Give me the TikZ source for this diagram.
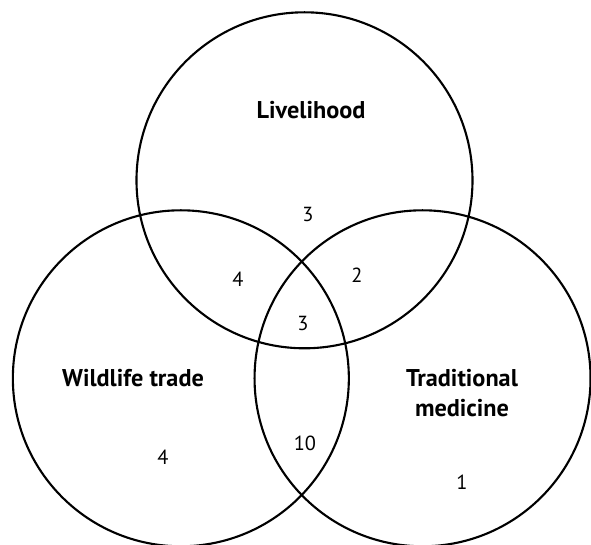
\documentclass[tikz,border=0pt]{standalone}
\usepackage{fontspec}
\setmainfont{PT Sans}
\usepackage{tkz-euclide}
\tikzset{setname/.style={inner sep=0pt,align=center,font=\bfseries\fontsize{13.8}{16.8}\selectfont},
  count/.style={inner sep=0pt,font=\fontsize{11.6}{13}\selectfont}}
\begin{document}
\begin{tikzpicture}
\useasboundingbox (0,0) rectangle (11.82,10.9);
\tkzDefPoint(6.09,7.294){L}\tkzDefPoint(6.09,10.654){l}
\tkzDefPoint(3.617,3.334){W}\tkzDefPoint(3.617,6.694){w}
\tkzDefPoint(8.451,3.334){M}\tkzDefPoint(8.451,6.694){m}
\tkzDrawCircles[draw=black,line width=1.2pt](L,l W,w M,m)
\node[setname] (livelihood) at (6.22,8.70) {Livelihood};
\node[setname] (trade) at (2.66,3.34) {Wildlife trade};
\node[setname] (medicine) at (9.24,3.04) {Traditional\\medicine};
\node[count] (nL) at (6.16,6.62) {3};
\node[count] (nLW) at (4.76,5.32) {4};
\node[count] (nLM) at (7.14,5.40) {2};
\node[count] (nLWM) at (6.06,4.44) {3};
\node[count] (nWM) at (6.10,2.04) {10};
\node[count] (nW) at (3.26,1.76) {4};
\node[count] (nM) at (9.24,1.26) {1};
\end{tikzpicture}
\end{document}
